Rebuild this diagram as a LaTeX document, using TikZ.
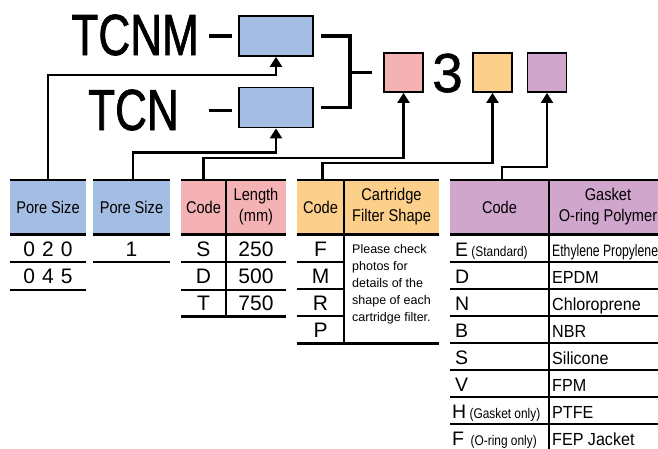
\documentclass[tikz,border=0pt]{standalone}
\usepackage{fontspec}
\setmainfont{Liberation Sans}
\newfontfamily\bigf[FakeStretch=0.76,FakeBold=1.2]{Liberation Sans}
\newfontfamily\thrf[FakeBold=1]{Liberation Sans}
\newfontfamily\hdf[FakeStretch=0.86]{Liberation Sans}
\newfontfamily\gkf[FakeStretch=0.92]{Liberation Sans}
\newfontfamily\epf[FakeStretch=0.74]{Liberation Sans}
\newfontfamily\smf[FakeStretch=0.85]{Liberation Sans}
\usetikzlibrary{arrows.meta,calc}
\definecolor{cblue}{HTML}{A4BEE3}
\definecolor{cpink}{HTML}{F4B2B4}
\definecolor{corange}{HTML}{FCCF8A}
\definecolor{cpurple}{HTML}{D1A6CD}
\tikzset{
  bbox/.style={draw, line width=1.8pt, minimum width=74pt, minimum height=40pt, inner sep=0pt},
  sbox/.style={draw, line width=1.8pt, minimum width=39pt, minimum height=39pt, inner sep=0pt},
  heavy/.style={line width=3.4pt},
  arr/.style={line width=2.2pt, -{Triangle[width=12pt,length=10pt]}},
  hdr/.style={inner sep=0pt, minimum height=54pt, align=center, font={\hdf\fontsize{17}{21}\selectfont}},
  body/.style={inner sep=0pt, anchor=base, font={\fontsize{21}{21}\selectfont}},
  gk/.style={inner sep=0pt, anchor=base west, font={\gkf\fontsize{17.5}{17.5}\selectfont}},
  gc/.style={inner sep=0pt, anchor=base west, font={\fontsize{19.5}{19.5}\selectfont}},
  topl/.style={line width=1.5pt},
  thinl/.style={line width=1.2pt},
  thickl/.style={line width=2.8pt}
}
\begin{document}
\begin{tikzpicture}[x=1pt,y=-1pt]
\useasboundingbox (0,0) rectangle (658,448);
% top code line
\node[anchor=base east, inner sep=0pt, font={\bigf\fontsize{58}{58}\selectfont}] (tcnm) at (199,55) {TCNM};
\node[anchor=base east, inner sep=0pt, font={\bigf\fontsize{58}{58}\selectfont}] (tcn) at (179,130) {TCN};
\node[bbox, fill=cblue] (b1) at (276,36) {};
\node[bbox, fill=cblue] (b2) at (276,107.5) {};
\node[sbox, fill=cpink] (pk) at (403.5,72.5) {};
\node[anchor=base, inner sep=0pt, font={\thrf\fontsize{55}{55}\selectfont}] (three) at (447.5,92) {3};
\node[sbox, fill=corange] (og) at (492.5,72.5) {};
\node[sbox, fill=cpurple] (pu) at (547,72.5) {};
\coordinate (br) at (350,72.5);
\draw[heavy] ([xshift=-29pt]b1.west) -- ([xshift=-6pt]b1.west);
\draw[heavy] ([xshift=-29pt,yshift=-3pt]b2.west) -- ([xshift=-6pt,yshift=-3pt]b2.west);
\draw[heavy] ([xshift=7pt]b1.east) -| (br |- b2.east) -- ([xshift=7pt]b2.east);
\draw[heavy] (br) -- ([xshift=-11pt]pk.west);

% headers
\node[hdr, fill=cblue, minimum width=76pt] (hd1) at (48,207) {Pore Size};
\node[hdr, fill=cblue, minimum width=77pt] (hd2) at (131.5,207) {Pore Size};
\node[hdr, fill=cpink, minimum width=45pt] (c3) at (203.5,207) {Code};
\node[hdr, fill=cpink, minimum width=60pt] (l3) at (256,207) {Length\\(mm)};
\node[hdr, fill=corange, minimum width=47pt] (c4) at (320.5,207) {Code};
\node[hdr, fill=corange, minimum width=95pt] (s4) at (391.5,207) {Cartridge\\Filter Shape};
\node[hdr, fill=cpurple, minimum width=99pt] (c5) at (499.5,207) {Code};
\node[hdr, fill=cpurple, minimum width=116pt] (g5) at (608,207) {Gasket\\O-ring Polymer};

% connectors
\draw[arr] (hd1.north) |- ($(b1.south)+(0,18)$) -- (b1.south);
\draw[arr] ([xshift=1.5pt]hd2.north) |- ($(b2.south)+(0,24)$) -- (b2.south);
\draw[arr] (c3.north) |- ($(pk.south)+(0,65)$) -- (pk.south);
\draw[arr] ([xshift=2pt]c4.north) |- ($(og.south)+(0,70)$) -- (og.south);
\draw[arr] ([xshift=2.5pt]c5.north) |- ($(pu.south)+(0,74)$) -- (pu.south);

% header rules
\draw[topl] (10,180) -- (86,180);
\draw[topl] (93,180) -- (170,180);
\draw[topl] (181,180) -- (286,180);
\draw[topl] (297,180) -- (439,180);
\draw[topl] (450,180) -- (665,180);
\draw[thickl] (10,234.5) -- (86,234.5);
\draw[thickl] (93,234.5) -- (170,234.5);
\draw[thickl] (181,234.5) -- (286,234.5);
\draw[thickl] (297,234.5) -- (439,234.5);
\draw[thickl] (450,234.5) -- (665,234.5);

% table 1
\node[body] (t1a) at (48,256) {0\hspace{7pt}2\hspace{7pt}0};
\node[body] (t1b) at (48,283) {0\hspace{7pt}4\hspace{7pt}5};
\draw[thinl] (10,262) -- (86,262);
\draw[thickl] (10,290) -- (86,290);

% table 2
\node[body] (t2a) at (131.5,256) {1};
\draw[thickl] (93,262) -- (170,262);

% table 3
\draw[thinl] (226,180) -- (226,316);
\node[body] (t3s) at (203.5,256) {S};
\node[body] (t3d) at (203.5,283) {D};
\node[body] (t3t) at (203.5,310) {T};
\node[body] (t3a) at (256,256) {250};
\node[body] (t3b) at (256,283) {500};
\node[body] (t3c) at (256,310) {750};
\draw[thinl] (181,262) -- (286,262);
\draw[thinl] (181,290) -- (286,290);
\draw[thickl] (181,316.5) -- (286,316.5);

% table 4
\draw[thinl] (344,180) -- (344,343);
\node[body] (t4f) at (320.5,256) {F};
\node[body] (t4m) at (320.5,283) {M};
\node[body] (t4r) at (320.5,310) {R};
\node[body] (t4p) at (320.5,337) {P};
\draw[thinl] (297,262) -- (344,262);
\draw[thinl] (297,289) -- (344,289);
\draw[thinl] (297,316) -- (344,316);
\draw[thickl] (297,343.5) -- (439,343.5);
\node[anchor=north west, inner sep=0pt, align=left, font={\fontsize{12.5}{17}\selectfont}] (note) at (352,244)
  {Please check\\photos for\\details of the\\shape of each\\cartridge filter.};

% table 5
\draw[thinl] (549,180) -- (549,450);
\foreach \yy in {262,289,316,343,370,397,424} {\draw[thinl] (450,\yy) -- (665,\yy);}
\node[gc] (e5) at (455,256) {E\,{\smf\fontsize{14}{14}\selectfont(Standard)}};
\node[gc] (d5) at (455,283) {D};
\node[gc] (n5) at (455,310) {N};
\node[gc] (b5) at (455,337) {B};
\node[gc] (s5) at (455,364) {S};
\node[gc] (v5) at (455,391) {V};
\node[gc] (h5) at (452,418) {H\,{\smf\fontsize{14}{14}\selectfont(Gasket only)}};
\node[gc] (f5) at (452,445) {F\,\,{\smf\fontsize{14}{14}\selectfont(O-ring only)}};
\node[gk, font={\epf\fontsize{16.5}{16.5}\selectfont}] (e5t) at (552,256) {Ethylene Propylene};
\node[gk] (d5t) at (552,283) {EPDM};
\node[gk] (n5t) at (552,310) {Chloroprene};
\node[gk] (b5t) at (552,337) {NBR};
\node[gk] (s5t) at (552,364) {Silicone};
\node[gk] (v5t) at (552,391) {FPM};
\node[gk] (h5t) at (552,418) {PTFE};
\node[gk] (f5t) at (552,445) {FEP Jacket};
\end{tikzpicture}
\end{document}
